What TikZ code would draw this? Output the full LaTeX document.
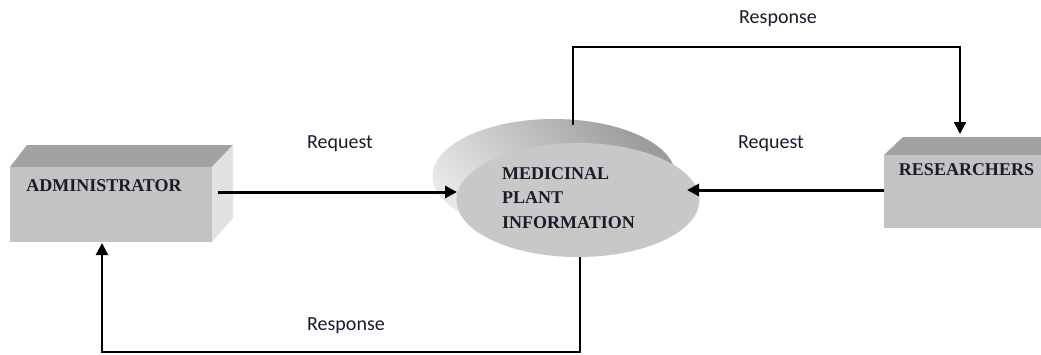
\documentclass[tikz,border=0pt]{standalone}
\usepackage{fontspec}
\setmainfont{Liberation Serif}
\newfontfamily\lblfont{Carlito}
\usetikzlibrary{arrows.meta,shapes.geometric}
\definecolor{frontgray}{HTML}{C3C3C3}
\definecolor{topgray}{HTML}{A2A2A2}
\definecolor{sidegray}{HTML}{E2E2E2}
\definecolor{ellgray}{HTML}{C8C8C8}
\definecolor{backdark}{HTML}{9C9C9C}
\definecolor{backlight}{HTML}{E8E8E8}
\definecolor{txtdark}{HTML}{1A1A2A}
\tikzset{
  front/.style={fill=frontgray, draw=none},
  topface/.style={fill=topgray, draw=none},
  sideface/.style={fill=sidegray, draw=none},
  entitytext/.style={font=\fontsize{18}{22}\selectfont\bfseries, text=txtdark, inner sep=0pt},
  flowlabel/.style={font=\lblfont\fontsize{20}{24}\selectfont, text=txtdark, inner sep=0pt},
  reqarrow/.style={draw=black, line width=3pt, -{Triangle[length=12pt,width=12pt]}},
  resparrow/.style={draw=black, line width=2.2pt, -{Triangle[length=12pt,width=12pt]}},
}
\begin{document}
\begin{tikzpicture}[x=1pt,y=-1pt]
\useasboundingbox (0,0) rectangle (1041,354);
% Administrator box
\fill[topface] (10,167) -- (27,145) -- (233,145) -- (212,167) -- cycle;
\fill[sideface] (212,167) -- (233,145) -- (233,218) -- (212,242) -- cycle;
\node[front, minimum width=202pt, minimum height=75pt, inner sep=0pt] (admin) at (111,204.5) {};
\node[entitytext] (admintxt) at (104,186) {ADMINISTRATOR};
% Researchers box
\fill[topface] (884,155) -- (903,137) -- (1041,137) -- (1041,155) -- cycle;
\node[front, minimum width=157pt, minimum height=73pt, inner sep=0pt] (res) at (962.5,191.5) {};
\node[entitytext] (restxt) at (966.5,170) {RESEARCHERS};
% Process ellipse (extruded disc)
\node[ellipse, minimum width=243pt, minimum height=114pt, inner sep=0pt,
      top color=backdark, bottom color=backlight, shading angle=-50] (mpiback) at (554,176) {};
\node[ellipse, fill=ellgray, minimum width=243pt, minimum height=114pt, inner sep=0pt] (mpi) at (578,200) {};
\node[entitytext, anchor=west, align=left, font=\fontsize{18}{24.5}\selectfont\bfseries] (mpitxt) at (502,198) {MEDICINAL\\PLANT\\INFORMATION};
% connector end points
\coordinate (adminout) at (218,192);
\coordinate (mpiin1) at (457,192);
\coordinate (resout) at (884,190);
\coordinate (mpiin2) at (687,190);
\coordinate (mpitop) at (573,125);
\coordinate (restop) at (960,134);
\coordinate (mpibot) at (580,257);
\coordinate (adminbot) at (102,243);
% Requests
\draw[reqarrow] (adminout) -- (mpiin1);
\draw[reqarrow] (resout) -- (mpiin2);
% Responses
\draw[resparrow] (mpitop) -- (mpitop |- 0,47) -- (restop |- 0,47) -- (restop);
\draw[resparrow] (mpibot) -- (mpibot |- 0,352) -- (adminbot |- 0,352) -- (adminbot);
% Labels
\node[flowlabel] (lreq1) at (340,144) {Request};
\node[flowlabel] (lreq2) at (771,144) {Request};
\node[flowlabel] (lres1) at (778,19) {Response};
\node[flowlabel] (lres2) at (346,326) {Response};
\end{tikzpicture}
\end{document}
